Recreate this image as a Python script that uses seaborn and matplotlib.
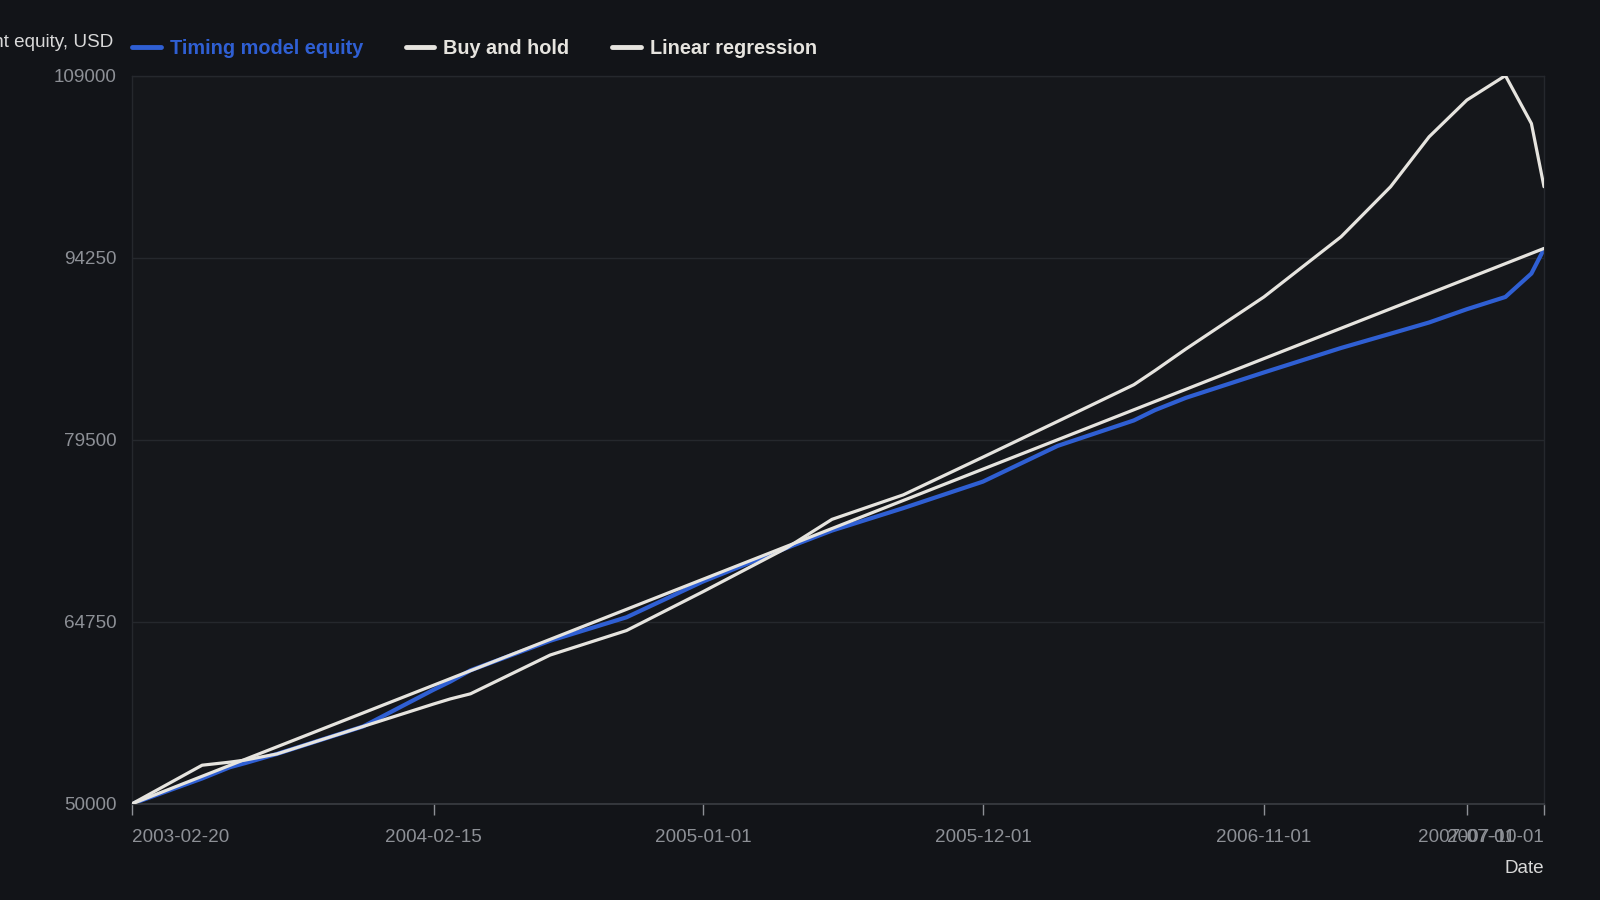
import pandas as pd
import seaborn as sns
import matplotlib.pyplot as plt
import matplotlib.dates as mdates

# data
dates = ['2003-02-20', '2003-05-15', '2003-06-17', '2003-07-05', '2003-08-12',
         '2003-11-23', '2004-02-15', '2004-03-06', '2004-03-30', '2004-07-03',
         '2004-10-02', '2005-01-01', '2005-04-11', '2005-06-04', '2005-08-28',
         '2005-12-01', '2006-02-28', '2006-05-30', '2006-06-24', '2006-07-31',
         '2006-11-01', '2007-02-01', '2007-04-01', '2007-05-17', '2007-07-01',
         '2007-08-16', '2007-09-16', '2007-10-01']
timing_equity = [50000, 52066, 52975, 53305, 54049,
                 56280, 59255, 59916, 60825, 63221,
                 65122, 68014, 70741, 72146, 73964,
                 76112, 79004, 81070, 81900, 82900,
                 84954, 86937, 88094, 89003, 90077,
                 91069, 92969, 94952]
buy_hold = [50000, 53140, 53388, 53553, 54049,
            56280, 58098, 58511, 58924, 62064,
            64048, 67188, 70741, 73055, 75038,
            78095, 80987, 83962, 85100, 86854,
            91069, 95944, 99993, 104042, 107017,
            109000, 105116, 100000]
regression_dates = ['2003-02-20', '2007-10-01']
regression_values = [50000, 95000]

y_ticks = [50000, 64750, 79500, 94250, 109000]
x_tick_labels = ['2003-02-20', '2004-02-15', '2005-01-01', '2005-12-01',
                 '2006-11-01', '2007-07-01', '2007-10-01']

df = pd.DataFrame({'date': pd.to_datetime(dates),
                   'timing': timing_equity,
                   'buyhold': buy_hold})
reg = pd.DataFrame({'date': pd.to_datetime(regression_dates),
                    'value': regression_values})

# colours
bg = '#121418'
panel = '#15171b'
blue = '#2f5fd3'
white = '#e6e4df'
grid_c = '#25282d'
tick_c = '#8d9096'

sns.set_theme(style='dark')
plt.rcParams['font.family'] = ['Liberation Sans', 'DejaVu Sans']

fig = plt.figure(figsize=(16, 9), dpi=100, facecolor=bg)
ax = fig.add_axes([0.0823, 0.1067, 0.8827, 0.8093])
ax.set_facecolor(panel)

sns.lineplot(data=df, x='date', y='timing', ax=ax, color=blue, linewidth=3,
             label='Timing model equity', zorder=2)
sns.lineplot(data=df, x='date', y='buyhold', ax=ax, color=white, linewidth=2.3,
             label='Buy and hold', zorder=3)
sns.lineplot(data=reg, x='date', y='value', ax=ax, color=white, linewidth=2.3,
             label='Linear regression', zorder=3)

ax.set_ylim(y_ticks[0], y_ticks[-1])
ax.set_xlim(df['date'].iloc[0], df['date'].iloc[-1])
ax.set_yticks(y_ticks)
ax.set_yticklabels([str(v) for v in y_ticks])
tick_dates = pd.to_datetime(x_tick_labels)
ax.set_xticks(mdates.date2num(tick_dates))
ax.set_xticklabels(x_tick_labels)

ax.tick_params(axis='x', colors=tick_c, labelsize=13.6, length=8, width=1,
               direction='out', pad=10, bottom=True)
ax.tick_params(axis='y', colors=tick_c, labelsize=13.6, length=0, pad=11)
labels = ax.get_xticklabels()
labels[0].set_ha('left')
labels[-1].set_ha('right')

ax.grid(axis='y', color=grid_c, linewidth=1)
ax.grid(axis='x', visible=False)
for side in ['top', 'right', 'left']:
    ax.spines[side].set_visible(True)
    ax.spines[side].set_color(grid_c)
    ax.spines[side].set_linewidth(1)
ax.spines['bottom'].set_color('#3a3d43')
ax.spines['bottom'].set_linewidth(1.2)

ax.set_ylabel('Account equity, USD', rotation=0, ha='right', va='center',
              color='#d8d8d8', fontsize=13.6)
ax.yaxis.set_label_coords(-0.013, 1.045)
ax.set_xlabel('Date', color='#d8d8d8', fontsize=13.6, ha='right')
ax.xaxis.set_label_coords(1.0, -0.077)

leg = ax.legend(loc='lower left', bbox_to_anchor=(-0.0125, 1.0), ncol=3,
                frameon=False, handlelength=1.44, handletextpad=0.46,
                columnspacing=2.15, prop={'weight': 'bold', 'size': 14.3})
for text, col in zip(leg.get_texts(), [blue, white, white]):
    text.set_color(col)
for line in leg.get_lines():
    line.set_linewidth(3.5)

fig.savefig('out.png', dpi=100, facecolor=bg)
